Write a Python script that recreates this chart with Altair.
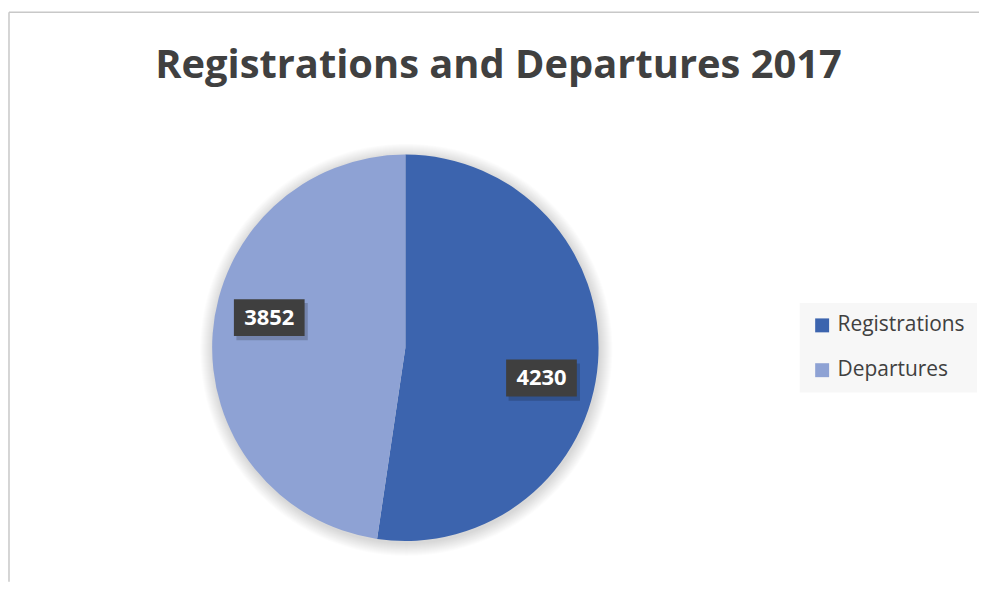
import altair as alt
import pandas as pd

# ---- data ----
categories = ["Registrations", "Departures"]
values = [4230, 3852]
order = [0, 1]
colors = ["#3C64AE", "#8EA2D4"]
title_text = "Registrations and Departures 2017"

df = pd.DataFrame({"category": categories, "value": values, "order": order})
one = pd.DataFrame({"k": [0]})

# ---- layout constants (view pixels) ----
W, H = 975, 575
CX, CY, R = 399, 340, 194
LABEL_R = 140
LABEL_SHIFT = 0.145  # radians, clockwise shift of label from slice mid
BOX = "M-1,-0.521H1V0.521H-1Z"
BOX_SHADOW = "M-0.93,-0.41H1.09V0.64H-0.93Z"

# soft shadow around the pie
shadow_layers = [
    alt.Chart(one).mark_arc(radius=R + k, theta=0, theta2=6.2832, color="black",
                            opacity=0.011).encode(x=alt.value(CX + 1), y=alt.value(CY + 2))
    for k in range(1, 14)
]

pie = alt.Chart(df).mark_arc(outerRadius=R).encode(
    theta=alt.Theta("value:Q", stack=True),
    color=alt.Color(
        "category:N",
        sort=categories,
        scale=alt.Scale(domain=categories, range=colors),
        legend=alt.Legend(
            title=None, orient="none", legendX=795, legendY=295,
            fillColor="#f7f7f7", padding=12, symbolType="square", symbolSize=196,
            symbolStrokeWidth=0, labelFontSize=21, labelFont="Open Sans",
            labelColor="#404040", rowPadding=23, labelOffset=5,
        ),
    ),
    order=alt.Order("order:Q"),
    x=alt.value(CX),
    y=alt.value(CY),
)

lab = alt.Chart(df).transform_joinaggregate(
    total="sum(value)"
).transform_window(
    cum="sum(value)", sort=[alt.SortField("order")], frame=[None, 0]
).transform_calculate(
    ang=f"2*PI*(datum.cum - datum.value/2)/datum.total + {LABEL_SHIFT}"
).transform_calculate(
    lx=f"{CX} + {LABEL_R}*sin(datum.ang)",
    ly=f"{CY} - {LABEL_R}*cos(datum.ang)",
)

pos = dict(x=alt.X("lx:Q", scale=None, axis=None), y=alt.Y("ly:Q", scale=None, axis=None))

box_shadow = lab.mark_point(shape=BOX_SHADOW, size=5041, filled=True, fill="black",
                            opacity=0.18, strokeWidth=0).encode(**pos)
box = lab.mark_point(shape=BOX, size=5041, filled=True, fill="#3f3f3f",
                     opacity=1, strokeWidth=0).encode(**pos)
txt = lab.mark_text(font="Open Sans", fontSize=22, fontWeight="bold", color="white",
                    align="center", baseline="middle").encode(
    text=alt.Text("value:Q", format="d"), **pos)

title = alt.Chart(one).mark_text(
    text=title_text, font="Open Sans", fontSize=40, fontWeight="bold",
    color="#404040", align="center", baseline="alphabetic",
).encode(x=alt.value(492.5), y=alt.value(69))

top_rule = alt.Chart(one).mark_rule(color="#c8c8c8", strokeWidth=1.5).encode(
    x=alt.value(1), x2=alt.value(W), y=alt.value(3))
left_rule = alt.Chart(one).mark_rule(color="#c8c8c8", strokeWidth=1.5).encode(
    x=alt.value(1), y=alt.value(3), y2=alt.value(H))

chart = alt.layer(
    top_rule, left_rule, title, *shadow_layers, pie, box_shadow, box, txt
).properties(
    width=W, height=H,
    autosize=alt.AutoSizeParams(type="none"),
    padding=0,
).configure_view(stroke=None)

chart.save("out.html", embed_options={"renderer": "svg", "actions": False})
